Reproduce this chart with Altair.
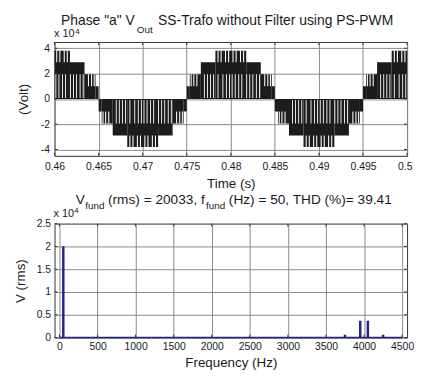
import altair as alt
import pandas as pd

# ---------------- data ----------------
# Top panel: staircase of one half-cycle, times in ms after the zero crossing,
# levels in units of 10^4 V
step_start_ms = [0.0, 0.35, 1.6, 3.25, 6.75, 8.4, 9.65]
step_end_ms = [0.35, 1.6, 3.25, 6.75, 8.4, 9.65, 10.0]
step_level = [1.0, 1.95, 2.9, 3.8, 2.9, 1.95, 1.0]
step_lower = [0.0, 1.0, 1.95, 2.9, 1.95, 1.0, 0.0]
# switching gaps seen in the upper band of a step (ms after zero crossing)
band_gap_ms = [0.5, 0.8, 1.15, 3.55, 3.9, 4.4, 4.75, 5.25, 5.6, 6.1, 6.45, 8.85, 9.2, 9.5]
# switching gaps seen in the lower part of the waveform (0 .. 1.95)
low_gap_ms = [2.0, 2.35, 2.7, 3.05, 3.55, 4.1, 4.5, 4.85, 5.15, 5.5, 5.9, 6.25,
              6.8, 7.15, 7.5, 7.9, 8.25]
half_cycle_start_s = [0.455, 0.465, 0.475, 0.485, 0.495]
half_cycle_sign = [1, -1, 1, -1, 1]

time_ticks = [0.46, 0.465, 0.47, 0.475, 0.48, 0.485, 0.49, 0.495, 0.5]
volt_ticks = [-4, -2, 0, 2, 4]

# Bottom panel: spectrum, units of 10^4 V rms
freq_hz = [50, 3750, 3950, 4050, 4250]
vrms = [2.0033, 0.06, 0.37, 0.37, 0.06]
freq_ticks = [0, 500, 1000, 1500, 2000, 2500, 3000, 3500, 4000, 4500]
vrms_ticks = [0, 0.5, 1, 1.5, 2, 2.5]

top_title = ['Phase "a" V', 'Out', 'SS-Trafo without Filter using PS-PWM']
bot_title = ['V', 'fund', '(rms) = 20033, f', 'fund', '(Hz) = 50, THD (%)= 39.41']
exp_text = ['x 10', '4']

# ---------------- build tables ----------------
rows, gaps = [], []
for s0, sg in zip(half_cycle_start_s, half_cycle_sign):
    for a, b, lv in zip(step_start_ms, step_end_ms, step_level):
        rows.append({"t": s0 + a / 1000, "t2": s0 + b / 1000, "v": 0.0, "v2": sg * lv})
    for g in band_gap_ms:
        for a, b, lo, hi in zip(step_start_ms, step_end_ms, step_lower, step_level):
            if a <= g < b:
                gaps.append({"t": s0 + (g - 0.06) / 1000, "t2": s0 + (g + 0.06) / 1000,
                             "v": sg * lo, "v2": sg * hi})
    for g in low_gap_ms:
        gaps.append({"t": s0 + (g - 0.05) / 1000, "t2": s0 + (g + 0.05) / 1000,
                     "v": sg * 0.08, "v2": sg * 1.95})
steps_df = pd.DataFrame(rows)
gaps_df = pd.DataFrame(gaps)
spec_df = pd.DataFrame({"t": freq_hz, "v": vrms})
base_df = pd.DataFrame({"t": [freq_ticks[0]], "t2": [freq_ticks[-1]], "v": [0.0]})

FONT = "Liberation Sans"
TXT = "#1a1a1a"
NAVY = "#24248c"
W, H = 356, 115


def label(txt, x, y, size):
    return alt.Chart(pd.DataFrame({"txt": [txt]})).mark_text(
        align="left", baseline="alphabetic", font=FONT, fontSize=size, color=TXT, x=x, y=y
    ).encode(text="txt:N")


axis_common = dict(grid=True, gridColor="#8a8a8a", gridWidth=1, ticks=False, tickSize=0,
                   domain=False, labelFont=FONT, labelFontSize=10.5, labelColor=TXT,
                   titleFont=FONT, titleFontSize=13.5, titleColor=TXT, titleFontWeight="normal",
                   labelOverlap=False, titleAlign="center", titleBaseline="middle")

# ---------------- scales / axes ----------------
xs_t = alt.Scale(domain=[0.46, 0.5], nice=False, zero=False)
ys_t = alt.Scale(domain=[-4.5, 4.5], nice=False)
xax_t = alt.Axis(values=time_ticks, format="~g", title="Time (s)",
                 titleX=W / 2, titleY=28, labelPadding=6, labelFlush=False,
                 labelAlign={"condition": {"test": "datum.value > 0.4999", "value": "right"},
                             "value": "center"},
                 labelOffset={"condition": {"test": "datum.value > 0.4999", "value": 5},
                              "value": 0},
                 **axis_common)
yax_t = alt.Axis(values=volt_ticks, title="(Volt)", titleX=-31, titleY=H / 2, titleAngle=270,
                 labelPadding=5, labelFlush=False,
                 labelExpr="datum.value < 0 ? '-' + format(-datum.value, '~g') : format(datum.value, '~g')",
                 **axis_common)

xs_b = alt.Scale(domain=[0, 4500], nice=False, zero=False)
ys_b = alt.Scale(domain=[0, 2.5], nice=False)
xax_b = alt.Axis(values=freq_ticks, format="d", title="Frequency (Hz)",
                 titleX=W / 2, titleY=25, labelPadding=4, labelFlush=True, labelFlushOffset=2,
                 **axis_common)
yax_b = alt.Axis(values=vrms_ticks, format="~g", title="V (rms)", titleX=-34, titleY=H / 2,
                 titleAngle=270, labelPadding=4, labelFlush=False, **axis_common)


def inner_ticks(xvals, yvals, xs, ys, xax, yax):
    dx = pd.DataFrame({"t": xvals})
    dy = pd.DataFrame({"v": yvals})
    r = []
    for y0, y1 in [(0, 3), (H, H - 3)]:
        r.append(alt.Chart(dx).mark_rule(color="#333", strokeWidth=1).encode(
            x=alt.X("t:Q", scale=xs, axis=xax), y=alt.value(y0), y2=alt.value(y1)))
    for x0, x1 in [(0, 3), (W, W - 3)]:
        r.append(alt.Chart(dy).mark_rule(color="#333", strokeWidth=1).encode(
            y=alt.Y("v:Q", scale=ys, axis=yax), x=alt.value(x0), x2=alt.value(x1)))
    return r


# ---------------- top panel ----------------
wave = alt.Chart(steps_df).mark_rect(color="#1c1c1c", clip=True).encode(
    x=alt.X("t:Q", scale=xs_t, axis=xax_t), x2="t2:Q",
    y=alt.Y("v:Q", scale=ys_t, axis=yax_t), y2="v2:Q",
)
wave_gaps = alt.Chart(gaps_df).mark_rect(color="white", clip=True).encode(
    x=alt.X("t:Q", scale=xs_t, axis=xax_t), x2="t2:Q",
    y=alt.Y("v:Q", scale=ys_t, axis=yax_t), y2="v2:Q")

top_layers = [wave, wave_gaps] + inner_ticks(time_ticks, volt_ticks, xs_t, ys_t, xax_t, yax_t) + [
    label(top_title[0], 6.5, -17.3, 14),
    label(top_title[1], 83, -9, 10),
    label(top_title[2], 104.5, -17.3, 14),
    label(exp_text[0], -0.5, -5, 11),
    label(exp_text[1], 21, -8.5, 8),
]
top = alt.layer(*top_layers).properties(width=W, height=H)

# ---------------- bottom panel ----------------
bars = alt.Chart(spec_df).mark_bar(color=NAVY, width=2.5, clip=True).encode(
    x=alt.X("t:Q", scale=xs_b, axis=xax_b),
    y=alt.Y("v:Q", scale=ys_b, axis=yax_b),
)
baseline = alt.Chart(base_df).mark_rule(color=NAVY, strokeWidth=1.5).encode(
    x=alt.X("t:Q", scale=xs_b, axis=xax_b), x2="t2:Q", y=alt.Y("v:Q", scale=ys_b, axis=yax_b))

bot_layers = [bars, baseline] + inner_ticks(freq_ticks, vrms_ticks, xs_b, ys_b, xax_b, yax_b) + [
    label(bot_title[0], 21.5, -20.3, 13.8),
    label(bot_title[1], 31, -14.5, 10),
    label(bot_title[2], 54, -20.3, 13.8),
    label(bot_title[3], 153, -14.5, 10),
    label(bot_title[4], 176, -20.3, 13.8),
    label(exp_text[0], -1, -7, 11),
    label(exp_text[1], 20, -10.5, 8),
]
bottom = alt.layer(*bot_layers).properties(width=W, height=H)

chart = alt.vconcat(top, bottom, spacing=1.5).properties(
    padding={"left": 5, "top": 3.5, "right": 0, "bottom": 2},
    background="white",
).configure_view(stroke="#333333", strokeWidth=1)

chart.save("out.html", embed_options={"renderer": "svg", "actions": False})
